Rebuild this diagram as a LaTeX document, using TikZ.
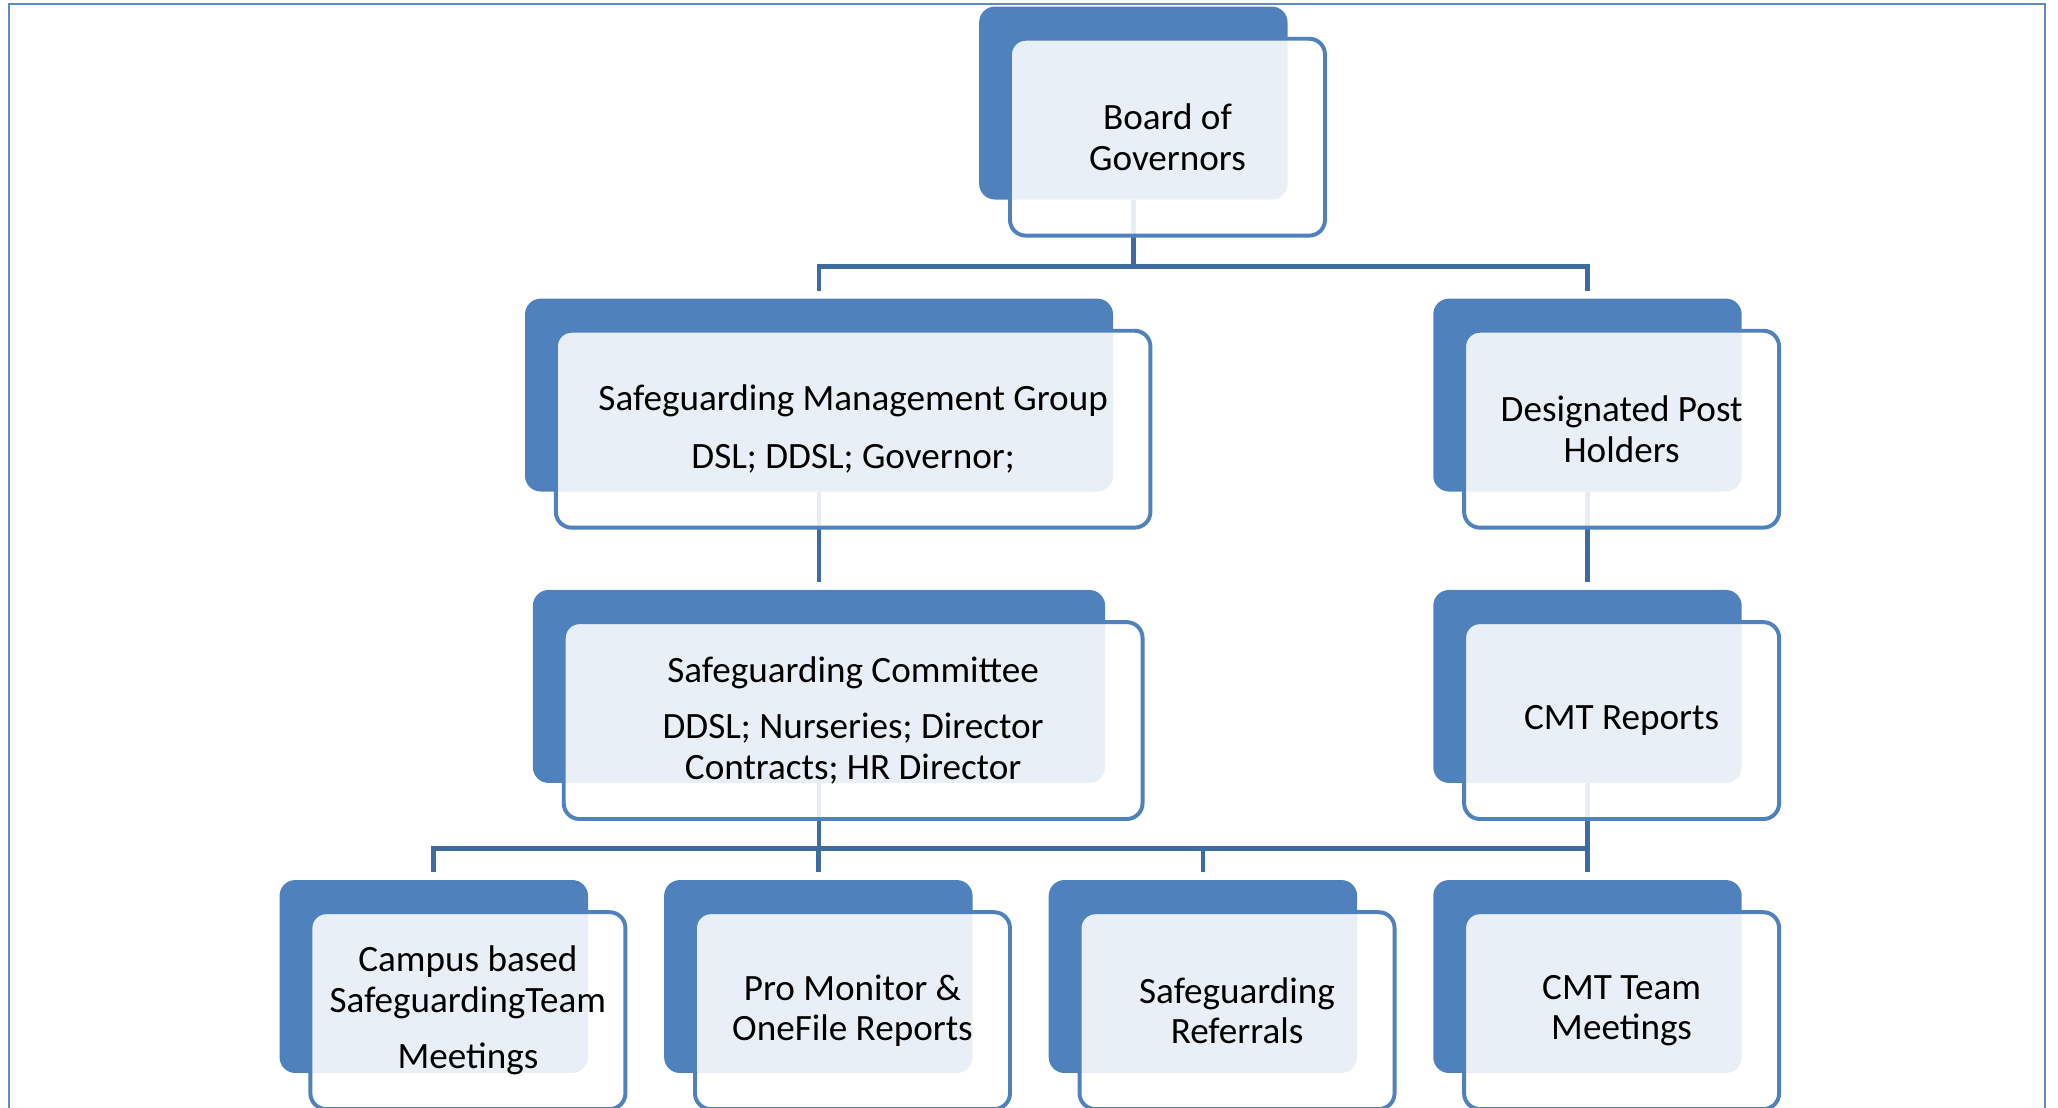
\documentclass[tikz,border=0pt]{standalone}
\usepackage{fontspec}
\setmainfont{Carlito}
\usetikzlibrary{calc}
\definecolor{boxblue}{RGB}{79,129,189}
\definecolor{linkblue}{RGB}{62,108,158}
\definecolor{frameblue}{RGB}{96,138,196}
\tikzset{
  backbox/.style={rounded corners=12pt,fill=boxblue,minimum width=235pt,minimum height=147pt,inner sep=0pt,outer sep=0pt},
  frontbox/.style={rounded corners=12pt,draw=boxblue,line width=3pt,fill=white,fill opacity=.88,text opacity=1,
    minimum width=240pt,minimum height=150pt,inner sep=0pt,align=center,font=\fontsize{28.3}{31}\selectfont},
  link/.style={draw=linkblue,line width=3.5pt},
  frameline/.style={draw=frameblue,line width=1.6pt}
}
\begin{document}
\begin{tikzpicture}[x=1pt,y=-1pt]
\useasboundingbox (0,0) rectangle (1568,844);
\draw[frameline] (7,850)--(7,3)--(1558,3)--(1558,850);
% back boxes
\node[backbox] (bog) at (863.5,78.5) {};
\node[backbox,minimum width=448pt] (smg) at (624,301) {};
\node[backbox] (dph) at (1209.5,301) {};
\node[backbox,minimum width=436pt] (sc) at (624,523) {};
\node[backbox] (cmt) at (1209.5,523) {};
\node[backbox] (cbt) at (330.5,744) {};
\node[backbox] (pmr) at (623.5,744) {};
\node[backbox] (sgr) at (916.5,744) {};
\node[backbox] (ctm) at (1209.5,744) {};
% connectors
\draw[link](bog.south)--++(0,51)coordinate(j1);
\draw[link]([yshift=6pt]smg.north)|-(j1)-|([yshift=6pt]dph.north);
\draw[link](smg.south)--([yshift=6pt]sc.north);
\draw[link](dph.south)--([yshift=6pt]cmt.north);
\draw[link](sc.south)--++(0,50)coordinate(j2);
\draw[link](cmt.south)|-(j2);
\foreach \n in {cbt,pmr,sgr,ctm}
  \draw[link]([yshift=6pt]\n.north)|-(j2);
% front boxes
\node[frontbox] (bogF) at ([shift={(26,26)}]bog) {Board of\\Governors};
\node[frontbox,minimum width=453pt] (smgF) at ([shift={(26,26)}]smg) {Safeguarding Management Group\\[13pt]DSL; DDSL; Governor;};
\node[frontbox] (dphF) at ([shift={(26,26)}]dph) {Designated Post\\Holders};
\node[frontbox,minimum width=441pt] (scF) at ([shift={(26,26)}]sc) {Safeguarding Committee\\[12pt]DDSL; Nurseries; Director\\Contracts; HR Director};
\node[frontbox] (cmtF) at ([shift={(26,26)}]cmt) {CMT Reports};
\node[frontbox] (cbtF) at ([shift={(26,26)}]cbt) {Campus based\\SafeguardingTeam\\[12pt]Meetings};
\node[frontbox] (pmrF) at ([shift={(26,26)}]pmr) {Pro Monitor \&\\OneFile Reports};
\node[frontbox] (sgrF) at ([shift={(26,26)}]sgr) {Safeguarding\\Referrals};
\node[frontbox] (ctmF) at ([shift={(26,26)}]ctm) {CMT Team\\Meetings};
\end{tikzpicture}
\end{document}
